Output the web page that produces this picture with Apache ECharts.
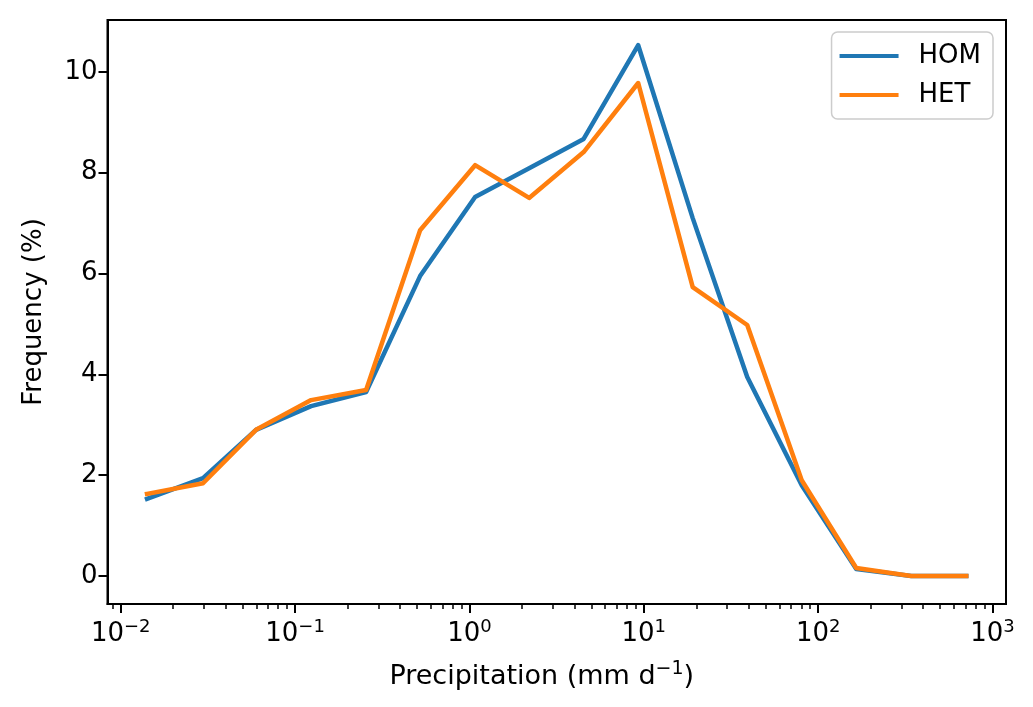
<!DOCTYPE html>
<html>
<head>
<meta charset="utf-8">
<script src="https://cdn.jsdelivr.net/npm/echarts@6/dist/echarts.min.js"></script>
<style>
html,body{margin:0;padding:0;background:#fff;}
#chart{width:1033px;height:707px;}
</style>
</head>
<body>
<div id="chart"></div>
<script>
// Bin centres of precipitation (mm/d)
const precip = [0.01416, 0.02966, 0.0597, 0.1236, 0.2555, 0.5213, 1.078, 2.20, 4.52, 9.29, 19.08, 39.2, 80.5, 165.4, 342, 707];
// Frequency (%)
const hom = [1.53, 1.94, 2.90, 3.37, 3.65, 5.95, 7.52, 8.09, 8.67, 10.53, 7.10, 3.95, 1.80, 0.14, 0.0, 0.0];
const het = [1.63, 1.84, 2.90, 3.49, 3.69, 6.86, 8.15, 7.50, 8.41, 9.78, 5.73, 4.98, 1.90, 0.16, 0.0, 0.0];
// Tick labels (base and exponent)
const xTickValues = [0.01, 0.1, 1, 10, 100, 1000];
const xTickExponents = ['\u22122', '\u22121', '0', '1', '2', '3'];
const yTickValues = [0, 2, 4, 6, 8, 10];
const seriesNames = ['HOM', 'HET'];

const minorTicks = [0.009];
for (let e = -2; e < 3; e++) {
  for (let m = 2; m <= 9; m++) minorTicks.push(+(m * Math.pow(10, e)).toPrecision(3));
}

const FONT = 'DejaVu Sans';
const FS = 26;
const SUP = {fontFamily: FONT, fontSize: 18, color: '#000', padding: [0, 0, 14, 0]};
const BASE = {fontFamily: FONT, fontSize: FS, color: '#000'};
const NAME_BASE = {fontFamily: FONT, fontSize: 27, color: '#000'};
const NAME_SUP = {fontFamily: FONT, fontSize: 19, color: '#000', padding: [0, 0, 14, 0]};
const chart = echarts.init(document.getElementById('chart'), null, {renderer: 'canvas'});
const toPairs = (ys) => precip.map((x, i) => [x, ys[i]]);

chart.setOption({
  animation: false,
  backgroundColor: '#ffffff',
  textStyle: {fontFamily: FONT},
  grid: {left: 107.5, right: 27, top: 20, bottom: 103, show: true, borderColor: '#000', borderWidth: 2, containLabel: false},
  legend: {
    orient: 'vertical',
    right: 40, top: 32,
    data: seriesNames.map(n => ({name: n, icon: 'rect'})),
    itemWidth: 59, itemHeight: 4, itemGap: 13,
    padding: [11, 12, 11, 8],
    backgroundColor: 'rgba(255,255,255,0.8)',
    borderColor: '#cccccc', borderWidth: 1.5, borderRadius: 6,
    textStyle: {fontFamily: FONT, fontSize: FS, color: '#000', lineHeight: 26, padding: [0, 0, 0, 15]},
    z: 10
  },
  xAxis: [{
    type: 'log', logBase: 10, min: 0.0084, max: 1195,
    gridIndex: 0, position: 'bottom',
    name: '{a|Precipitation (mm d}{s|\u22121}{a|)}', nameLocation: 'middle', nameGap: 56,
    nameTextStyle: {fontFamily: FONT, fontSize: 27, color: '#000', padding: [0, 30, 0, 0], rich: {a: NAME_BASE, s: NAME_SUP}},
    axisLine: {show: true, onZero: false, lineStyle: {color: '#000', width: 2}},
    axisTick: {show: true, customValues: xTickValues, length: 9, lineStyle: {color: '#000', width: 2}},
    axisLabel: {
      customValues: xTickValues, margin: 14,
      fontFamily: FONT, fontSize: FS, color: '#000',
      formatter: (v) => {
        const i = xTickValues.findIndex(t => Math.abs(Math.log10(t) - Math.log10(v)) < 1e-6);
        return i < 0 ? '' : '{b|10}{s|' + xTickExponents[i] + '}';
      },
      rich: {b: BASE, s: SUP}
    },
    splitLine: {show: false}, minorTick: {show: false}
  }, {
    type: 'log', logBase: 10, min: 0.0084, max: 1195,
    gridIndex: 0, position: 'bottom',
    axisLine: {show: false, onZero: false},
    axisTick: {show: true, customValues: minorTicks, length: 5, lineStyle: {color: '#000', width: 1.5}},
    axisLabel: {show: false},
    splitLine: {show: false}
  }],
  yAxis: {
    type: 'value', min: -0.555, max: 11.03,
    name: 'Frequency (%)', nameLocation: 'middle', nameGap: 60, nameRotate: 90,
    nameTextStyle: {fontFamily: FONT, fontSize: FS, color: '#000'},
    axisLine: {show: true, onZero: false, lineStyle: {color: '#000', width: 2}},
    axisTick: {show: true, customValues: yTickValues, length: 9, lineStyle: {color: '#000', width: 2}},
    axisLabel: {customValues: yTickValues, margin: 10, fontFamily: FONT, fontSize: FS, color: '#000'},
    splitLine: {show: false}
  },
  series: [
    {name: seriesNames[0], type: 'line', xAxisIndex: 0, data: toPairs(hom), showSymbol: false, symbol: 'none',
     color: '#1f77b4', lineStyle: {width: 4.5, color: '#1f77b4', join: 'round', cap: 'square'}, z: 2},
    {name: seriesNames[1], type: 'line', xAxisIndex: 0, data: toPairs(het), showSymbol: false, symbol: 'none',
     color: '#ff7f0e', lineStyle: {width: 4.5, color: '#ff7f0e', join: 'round', cap: 'square'}, z: 3}
  ]
});
</script>
</body>
</html>
